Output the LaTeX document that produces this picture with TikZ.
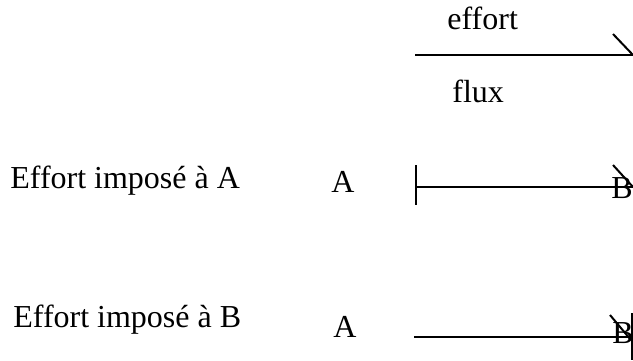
\documentclass[tikz,border=0pt]{standalone}
\usepackage{fontspec}
\setmainfont{Liberation Serif}

\tikzset{
  lbl/.style={inner sep=0pt, anchor=base west, font=\fontsize{16}{19}\selectfont},
  bond/.style={line width=1pt},
}

\begin{document}
\begin{tikzpicture}[x=0.5pt,y=-0.5pt]
				\useasboundingbox (0,0) rectangle (633,360);
				% legende
				\coordinate (e1) at (415,55);
				\coordinate (e2) at (633,55);
				\coordinate (h1) at (613,34);
				\draw[bond] (e1) -- (e2);
				\draw[bond] (h1) -- (e2);
				\node[lbl] (effort) at (447,29) {effort};
				\node[lbl] (flux) at (452,102) {flux};
				% effort impose a A
				\node[lbl] (txtA) at (10,188) {Effort imposé à A};
				\node[lbl] (a1) at (331,192) {A};
				\node[lbl] (b1) at (611,198) {B};
				\coordinate (s1) at (416,187);
				\coordinate (t1) at (633,187);
				\draw[bond] (s1) -- (t1);
				\draw[bond] (416,165) -- (416,205);
				\draw[bond] (613,165) -- (t1);
				% effort impose a B
				\node[lbl] (txtB) at (13,327) {Effort imposé à B};
				\node[lbl] (a2) at (333,337) {A};
				\node[lbl] (b2) at (612,343) {B};
				\coordinate (s2) at (414,337);
				\coordinate (t2) at (632,337);
				\draw[bond] (s2) -- (t2);
				\draw[bond] (632,313) -- (632,360);
				\draw[bond] (610,315) -- (631,340);
			\end{tikzpicture}
\end{document}
